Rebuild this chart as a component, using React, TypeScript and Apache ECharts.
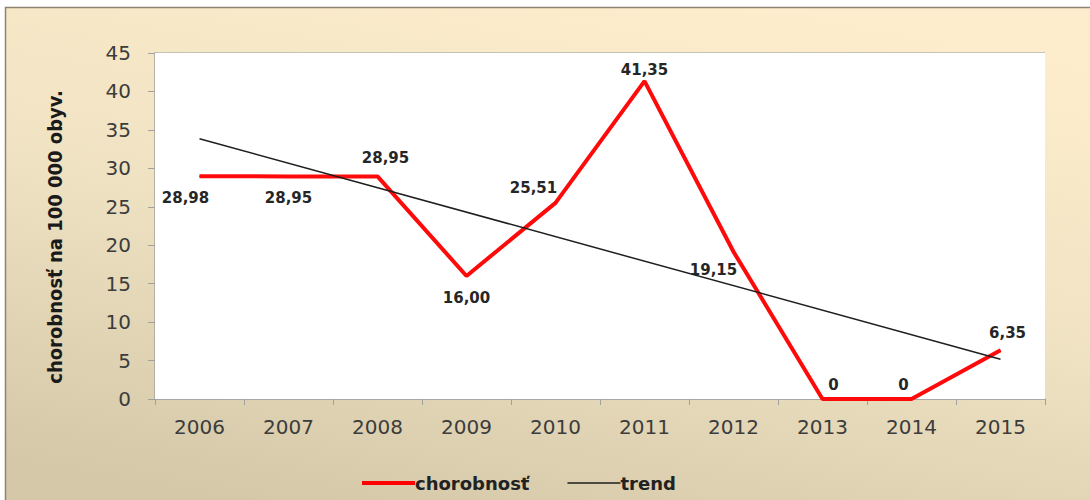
import React, { useEffect, useRef } from "react";
import * as echarts from "echarts";

const years = ["2006", "2007", "2008", "2009", "2010", "2011", "2012", "2013", "2014", "2015"];
const incidence = [28.98, 28.95, 28.95, 16.0, 25.51, 41.35, 19.15, 0, 0, 6.35];
const valueLabels = ["28,98", "28,95", "28,95", "16,00", "25,51", "41,35", "19,15", "0", "0", "6,35"];
const trend = [33.86, null, null, null, null, null, null, null, null, 5.18];
const seriesNames = ["chorobnosť", "trend"];
const yAxisTitle = "chorobnosť na 100 000 obyv.";

// label placement relative to each point (style only)
const labelOffsets: [number, number][] = [
  [-14, 22], [0, 22], [8, -18], [0, 22], [-22, -15], [0, -11], [-20, 18], [11, -14], [-8, -14], [7, -17],
];

export default function App() {
  const ref = useRef<HTMLDivElement>(null);
  useEffect(() => {
    if (!ref.current) return;
    const chart = echarts.init(ref.current, null, { renderer: "svg" });
    const option: any = {
      animation: false,
      backgroundColor: "#ffffff",
      graphic: [
        {
          type: "rect",
          z: -10,
          silent: true,
          shape: { x: 5.5, y: 7.5, width: 1100, height: 510 },
          style: {
            fill: new echarts.graphic.LinearGradient(0.7, 0, 0.3, 1, [
              { offset: 0, color: "#fdedcc" },
              { offset: 0.5, color: "#efe2c2" },
              { offset: 1, color: "#d4c8a8" },
            ]),
            stroke: "#8f8270",
            lineWidth: 1.5,
          },
        },
      ],
      grid: {
        left: 155,
        right: 45,
        top: 53,
        bottom: 101,
        show: true,
        backgroundColor: "#ffffff",
        borderWidth: 0,
        z: 1,
      },
      legend: {
        left: 357,
        top: 469,
        itemWidth: 53,
        itemHeight: 16,
        itemGap: 38,
        textStyle: { fontFamily: "DejaVu Sans", fontWeight: "bold", fontSize: 18, color: "#222222", padding: [0, 0, 0, -5] },
        data: [
          { name: seriesNames[0], icon: "path://M0,0M53,16M0,6L53,6L53,10L0,10Z" },
          { name: seriesNames[1], icon: "path://M0,0M53,16M0,7.2L53,7.2L53,8.8L0,8.8Z" },
        ],
      },
      xAxis: {
        type: "category",
        data: years,
        boundaryGap: true,
        axisLine: { show: true, lineStyle: { color: "#a0a0a0", width: 1.5 } },
        axisTick: { show: true, length: 6, inside: false, lineStyle: { color: "#a0a0a0" } },
        axisLabel: { margin: 18, fontFamily: "DejaVu Sans", fontSize: 20, color: "#3c3c3c" },
        splitLine: { show: false },
      },
      yAxis: {
        type: "value",
        min: 0,
        max: 45,
        interval: 5,
        name: yAxisTitle,
        nameLocation: "middle",
        nameGap: 90,
        nameTextStyle: {
          fontFamily: "DejaVu Sans Condensed",
          fontWeight: "bold",
          fontSize: 20,
          color: "#1a1a1a",
          padding: [0, 22, 0, 0],
        },
        axisLine: { show: true, lineStyle: { color: "#a0a0a0", width: 1.5 } },
        axisTick: { show: true, length: 7, lineStyle: { color: "#a0a0a0" } },
        axisLabel: { margin: 24, fontFamily: "DejaVu Sans", fontSize: 20, color: "#3c3c3c" },
        splitLine: { show: true, lineStyle: { color: "#b4b4b4", width: 1.5 } },
      },
      series: [
        {
          name: seriesNames[0],
          type: "line",
          z: 3,
          color: "#ff0000",
          symbol: "circle",
          symbolSize: 1,
          lineStyle: { color: "#ff0a0a", width: 4 },
          data: incidence.map((v, i) => ({
            value: v,
            label: {
              show: true,
              position: "inside",
              offset: labelOffsets[i],
              formatter: valueLabels[i],
              fontFamily: "DejaVu Sans",
              fontWeight: "bold",
              fontSize: 15,
              color: "#262626",
            },
          })),
        },
        {
          name: seriesNames[1],
          type: "line",
          z: 4,
          color: "#1e1e1e",
          symbol: "none",
          connectNulls: true,
          lineStyle: { color: "#1e1e1e", width: 1.5 },
          data: trend,
        },
      ],
    };
    chart.setOption(option);
    return () => chart.dispose();
  }, []);
  return (
    <div
      ref={ref}
      style={{ position: "absolute", left: 0, top: 0, width: 1090, height: 500 }}
    />
  );
}
